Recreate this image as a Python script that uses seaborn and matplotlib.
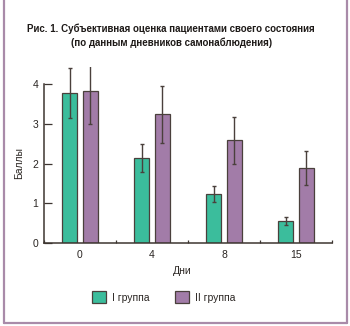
import matplotlib
matplotlib.use("Agg")
import matplotlib.pyplot as plt
import seaborn as sns
import pandas as pd
import numpy as np

# Self-assessment scores by day of observation
days = ["0", "4", "8", "15"]
groups = ["I группа", "II группа"]
group1_mean = [3.78, 2.14, 1.23, 0.55]
group1_err = [0.62, 0.36, 0.20, 0.10]
group2_mean = [3.84, 3.24, 2.59, 1.89]
group2_err = [0.84, 0.73, 0.59, 0.42]
y_ticks = [0, 1, 2, 3, 4]

title = ("Рис. 1. Субъективная оценка пациентами своего состояния\n"
         "(по данным дневников самонаблюдения)")

green = "#3bbd9c"
purple = "#a27ca8"
edge = "#4a403c"
axis_col = "#3d3530"

df = pd.DataFrame({
    "day": days * 2,
    "group": [groups[0]] * len(days) + [groups[1]] * len(days),
    "score": group1_mean + group2_mean,
    "err": group1_err + group2_err,
})

sns.set_style("white")
plt.rcParams["font.family"] = ["Liberation Sans", "DejaVu Sans"]

fig = plt.figure(figsize=(3.5, 3.26), dpi=100)
ax = fig.add_axes([0.1257, 0.2555, 0.8229, 0.5405])

sns.barplot(data=df, x="day", y="score", hue="group", order=days,
            hue_order=groups, palette=[green, purple], errorbar=None,
            width=0.58, gap=0.27, edgecolor=edge, linewidth=0.9,
            saturation=1, ax=ax)

# error bars at the centre of each drawn bar
bars = [p for p in ax.patches if p.get_height() > 0]
for g, (means, errs) in enumerate([(group1_mean, group1_err),
                                   (group2_mean, group2_err)]):
    for i in range(len(days)):
        p = bars[g * len(days) + i]
        cx = p.get_x() + p.get_width() / 2
        ax.errorbar(cx, means[i], yerr=errs[i], fmt="none",
                    ecolor=edge, elinewidth=1.0, capsize=1.6,
                    capthick=1.0, zorder=5)

ax.set_xlim(-0.5, len(days) - 0.5)
ax.set_ylim(0, 4.45)
ax.set_yticks(y_ticks)
ax.set_yticklabels([str(t) for t in y_ticks])
ax.set_xticks(range(len(days)))
ax.set_xticklabels(days)
ax.set_xticks(np.arange(-0.5, len(days)), minor=True)

ax.tick_params(axis="y", direction="in", length=6, width=0.9,
               colors=axis_col, labelsize=7.5, pad=4, left=True)
ax.tick_params(axis="x", which="major", length=0, labelsize=7.5,
               colors=axis_col, pad=5)
ax.tick_params(axis="x", which="minor", direction="in", length=2.5,
               width=0.9, colors=axis_col, bottom=True)
for lab in ax.get_xticklabels() + ax.get_yticklabels():
    lab.set_color("#2a2522")

for s in ["top", "right"]:
    ax.spines[s].set_visible(False)
ax.spines["left"].set_bounds(0, 4)
for s in ["left", "bottom"]:
    ax.spines[s].set_color(axis_col)
    ax.spines[s].set_linewidth(1.1)

ax.set_xlabel("Дни", fontsize=7.5, color="#2a2522")
ax.xaxis.set_label_coords(0.481, -0.132)
ax.set_ylabel("Баллы", fontsize=7.5, color="#2a2522")
ax.yaxis.set_label_coords(-0.068, 0.452)

handles, labels = ax.get_legend_handles_labels()
ax.get_legend().remove()
fig.legend(handles, labels, loc="center", bbox_to_anchor=(0.467, 1 - 297 / 326),
           ncol=2, frameon=False, fontsize=7.5, handlelength=1.35,
           handleheight=1.25, handletextpad=0.6, columnspacing=2.4,
           labelcolor="#2a2522")

fig.text(0.489, 1 - 36 / 326, title, ha="center", va="center",
         fontsize=7, fontweight="bold", color="#1e1a18", linespacing=1.45)

# frame around the figure (open at the top)
frame_col = "#a98ba9"
for xs, ys in [([3.5, 3.5], [0, 323]), ([346.5, 346.5], [0, 323]),
               ([3.5, 346.5], [323, 323])]:
    fig.add_artist(plt.Line2D([x / 350 for x in xs], [1 - y / 326 for y in ys],
                              color=frame_col, linewidth=1.6,
                              transform=fig.transFigure))

fig.savefig("out.png", dpi=100)
